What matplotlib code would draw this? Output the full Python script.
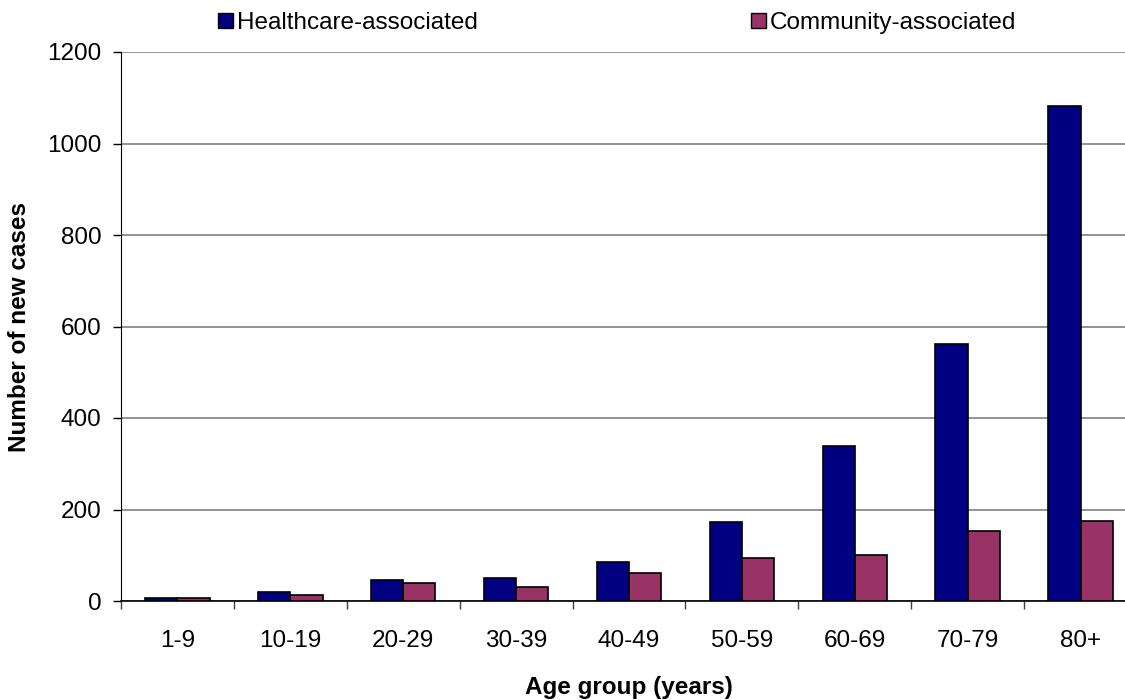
import matplotlib.pyplot as plt
import numpy as np
from matplotlib.patches import Patch
from matplotlib.ticker import FixedLocator, NullFormatter


# -------------------------------------------------
# DATA
# -------------------------------------------------

age_groups = ["1-9", "10-19", "20-29", "30-39", "40-49",
              "50-59", "60-69", "70-79", "80+"]

healthcare = [7, 19, 46, 50, 86, 172, 339, 561, 1081]
community = [7, 14, 39, 30, 62, 93, 101, 152, 175]

series_names = ["Healthcare-associated", "Community-associated"]


# -------------------------------------------------
# STYLE
# -------------------------------------------------

plt.rcParams["font.family"] = ["Liberation Sans", "DejaVu Sans"]
plt.rcParams["font.size"] = 17.5

hc_color = "#000080"
ca_color = "#993366"
bar_width = 0.285


# -------------------------------------------------
# CHART
# -------------------------------------------------

fig = plt.figure(figsize=(11.25, 7), dpi=100)
ax = fig.add_axes([121 / 1125, 1 - 601 / 700, 1016 / 1125, 549 / 700])

x = np.arange(len(age_groups))

ax.bar(x - bar_width / 2, healthcare, width=bar_width,
       color=hc_color, edgecolor="black", linewidth=1.2, zorder=3)
ax.bar(x + bar_width / 2, community, width=bar_width,
       color=ca_color, edgecolor="black", linewidth=1.2, zorder=3)

ax.set_xlim(-0.5, len(age_groups) - 0.5)
ax.set_ylim(0, 1200)
ax.set_yticks(range(0, 1201, 200))

# category labels in the middle, tick marks on the boundaries
ax.set_xticks(x)
ax.set_xticklabels(age_groups)
ax.tick_params(axis="x", which="major", length=0, pad=21)
ax.xaxis.set_minor_locator(FixedLocator(np.arange(-0.5, len(age_groups), 1)))
ax.xaxis.set_minor_formatter(NullFormatter())
ax.tick_params(axis="x", which="minor", length=6, width=1, color="#404040")
ax.tick_params(axis="y", length=6, width=1, pad=8)

ax.yaxis.grid(True, color="#808080", linewidth=1.2, zorder=0)
ax.set_axisbelow(True)

for side in ["top", "right"]:
    ax.spines[side].set_visible(False)
ax.spines["left"].set_color("black")
ax.spines["bottom"].set_color("black")
ax.spines["bottom"].set_linewidth(1.2)

ax.set_ylabel("Number of new cases", fontweight="bold", labelpad=12)
ax.set_xlabel("Age group (years)", fontweight="bold", labelpad=17)

handles = [
    Patch(facecolor=hc_color, edgecolor="black", linewidth=1),
    Patch(facecolor=ca_color, edgecolor="black", linewidth=1),
]

fig.legend(
    handles,
    series_names,
    loc="upper left",
    bbox_to_anchor=(218 / 1125, 1 - 12 / 700),
    ncol=2,
    frameon=False,
    handlelength=0.62,
    handleheight=0.62,
    handletextpad=0.18,
    columnspacing=11.2,
    borderpad=0,
    borderaxespad=0,
)

fig.savefig("out.png", dpi=100)
